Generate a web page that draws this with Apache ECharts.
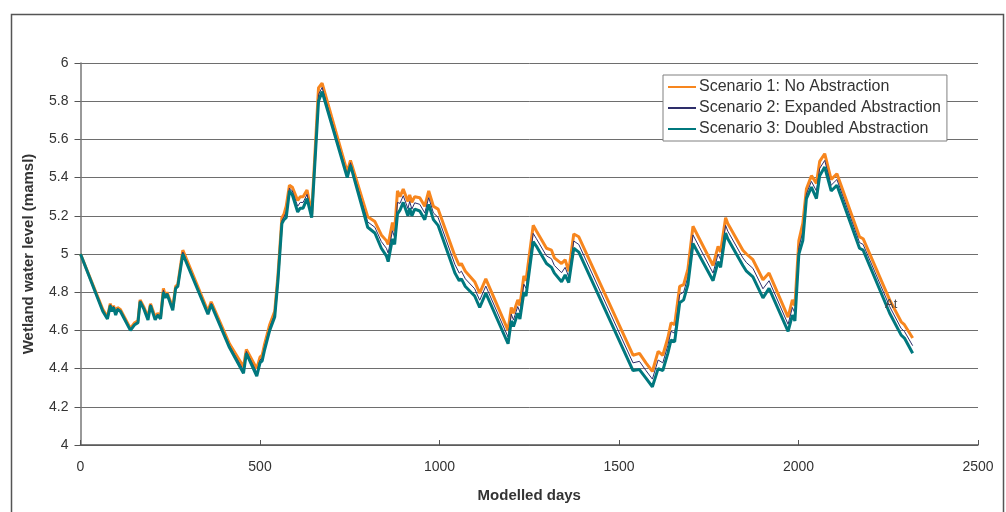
<!DOCTYPE html>
<html>
<head>
<meta charset="utf-8">
<script src="https://cdn.jsdelivr.net/npm/echarts@6/dist/echarts.min.js"></script>
<style>
html,body{margin:0;padding:0;background:#fff;}
#chart{width:1006px;height:512px;}
</style>
</head>
<body>
<div id="chart"></div>
<script>
const seriesNames = ['Scenario 1: No Abstraction', 'Scenario 2: Expanded Abstraction', 'Scenario 3: Doubled Abstraction'];
const days = [0,62,75,83,87,92,98,103,111,139,151,160,166,177,188,195,208,215,223,231,236,241,257,265,271,285,355,364,415,454,462,491,500,506,513,527,541,550,561,567,573,582,590,605,612,620,631,644,663,673,743,752,800,820,838,852,857,869,875,883,890,899,912,917,923,931,945,959,970,983,996,1043,1055,1061,1072,1098,1112,1129,1191,1200,1206,1218,1224,1235,1241,1261,1270,1298,1312,1320,1340,1350,1360,1374,1388,1539,1557,1575,1593,1609,1622,1636,1645,1655,1669,1680,1692,1706,1762,1776,1783,1797,1803,1808,1845,1855,1873,1901,1918,1971,1983,1990,2001,2012,2022,2036,2050,2059,2073,2091,2107,2170,2180,2254,2286,2295,2318];
const scenario1 = [5.00,4.71,4.67,4.74,4.71,4.73,4.69,4.72,4.71,4.61,4.64,4.65,4.76,4.72,4.67,4.74,4.67,4.69,4.67,4.82,4.78,4.80,4.72,4.83,4.84,5.02,4.70,4.75,4.53,4.41,4.50,4.40,4.46,4.47,4.53,4.63,4.70,4.89,5.19,5.21,5.25,5.36,5.35,5.28,5.30,5.30,5.335,5.21,5.87,5.895,5.43,5.49,5.195,5.17,5.10,5.07,5.05,5.165,5.12,5.33,5.30,5.34,5.275,5.31,5.27,5.30,5.295,5.25,5.33,5.25,5.235,4.99,4.94,4.95,4.91,4.855,4.795,4.87,4.60,4.72,4.69,4.76,4.73,4.885,4.86,5.15,5.12,5.03,5.02,4.98,4.95,4.97,4.91,5.105,5.09,4.47,4.48,4.43,4.385,4.49,4.47,4.56,4.64,4.63,4.83,4.84,4.92,5.145,4.94,5.04,5.01,5.19,5.16,5.165,5.02,5.00,4.97,4.865,4.90,4.67,4.76,4.73,5.07,5.16,5.34,5.41,5.37,5.485,5.525,5.39,5.42,5.09,5.08,4.76,4.645,4.63,4.56];
const scenario2 = [5.00,4.705,4.665,4.735,4.705,4.725,4.685,4.715,4.705,4.605,4.635,4.645,4.755,4.715,4.662,4.735,4.662,4.685,4.665,4.81,4.775,4.795,4.712,4.825,4.835,5.01,4.692,4.742,4.52,4.392,4.49,4.38,4.445,4.455,4.515,4.615,4.685,4.875,5.175,5.195,5.22,5.345,5.33,5.25,5.27,5.27,5.312,5.20,5.835,5.872,5.415,5.478,5.168,5.14,5.065,5.03,5.005,5.122,5.085,5.27,5.265,5.305,5.238,5.275,5.235,5.268,5.26,5.215,5.295,5.215,5.192,4.945,4.90,4.91,4.87,4.818,4.758,4.832,4.565,4.685,4.655,4.725,4.695,4.842,4.82,5.108,5.08,4.99,4.975,4.94,4.902,4.93,4.88,5.068,5.05,4.43,4.438,4.39,4.345,4.445,4.43,4.52,4.595,4.585,4.788,4.80,4.88,5.10,4.90,5.00,4.97,5.15,5.12,5.128,4.98,4.955,4.925,4.818,4.86,4.632,4.72,4.69,5.035,5.115,5.315,5.38,5.33,5.448,5.49,5.36,5.39,5.06,5.05,4.725,4.61,4.595,4.52];
const scenario3 = [5.00,4.70,4.66,4.73,4.70,4.72,4.68,4.71,4.70,4.60,4.63,4.64,4.75,4.71,4.655,4.73,4.655,4.68,4.66,4.80,4.77,4.79,4.705,4.82,4.83,5.00,4.685,4.735,4.51,4.375,4.48,4.36,4.43,4.44,4.50,4.60,4.67,4.86,5.16,5.18,5.19,5.33,5.31,5.22,5.24,5.24,5.29,5.19,5.80,5.85,5.40,5.465,5.14,5.11,5.03,4.99,4.96,5.08,5.05,5.21,5.23,5.27,5.20,5.24,5.20,5.235,5.225,5.18,5.26,5.18,5.15,4.90,4.86,4.87,4.83,4.78,4.72,4.795,4.53,4.65,4.62,4.69,4.66,4.80,4.78,5.065,5.04,4.95,4.93,4.90,4.855,4.89,4.85,5.03,5.01,4.39,4.395,4.35,4.305,4.40,4.39,4.48,4.55,4.54,4.745,4.76,4.84,5.055,4.86,4.96,4.93,5.11,5.08,5.09,4.94,4.91,4.88,4.77,4.82,4.595,4.68,4.65,5.00,5.07,5.29,5.35,5.29,5.41,5.455,5.33,5.36,5.03,5.02,4.69,4.575,4.56,4.48];
const xTicks = [0, 500, 1000, 1500, 2000, 2500];
const yTicks = [4, 4.2, 4.4, 4.6, 4.8, 5, 5.2, 5.4, 5.6, 5.8, 6];

const FONT = '"Liberation Sans", Arial, sans-serif';
const colors = ['#F7861E', '#2E2E6A', '#00787E'];
const widths = [3, 1, 3];
const allSeries = [scenario1, scenario2, scenario3];

const chart = echarts.init(document.getElementById('chart'), null, {renderer: 'canvas'});
chart.setOption({
  animation: false,
  backgroundColor: '#ffffff',
  textStyle: {fontFamily: FONT},
  grid: {left: 80.5, right: 28, top: 63, bottom: 67, containLabel: false},
  legend: {
    orient: 'vertical',
    left: 663, top: 75,
    padding: [4, 6, 4, 4],
    itemGap: 5,
    itemWidth: 28, itemHeight: 17,
    backgroundColor: '#ffffff',
    borderColor: '#808080', borderWidth: 1,
    textStyle: {fontFamily: FONT, fontSize: 16, color: '#333333', padding: [0, 0, 0, -2]},
    itemStyle: {opacity: 0},
    data: seriesNames
  },
  xAxis: {
    type: 'value',
    min: xTicks[0], max: xTicks[xTicks.length - 1], interval: 500,
    name: 'Modelled days',
    nameLocation: 'middle', nameGap: 43,
    nameTextStyle: {fontFamily: FONT, fontSize: 15, fontWeight: 'bold', color: '#333'},
    axisLine: {lineStyle: {color: '#555', width: 1.5}},
    axisTick: {show: true, inside: true, length: 5, lineStyle: {color: '#555'}},
    axisLabel: {fontFamily: FONT, fontSize: 14, color: '#333', margin: 15,
      formatter: v => String(v)},
    splitLine: {show: false}
  },
  yAxis: {
    type: 'value',
    min: 4, max: 6, interval: 0.2,
    name: 'Wetland water level (mamsl)',
    nameLocation: 'middle', nameGap: 44, nameRotate: 90,
    nameTextStyle: {fontFamily: FONT, fontSize: 15, fontWeight: 'bold', color: '#333'},
    axisLine: {show: true, lineStyle: {color: '#777', width: 1.5}},
    axisTick: {show: true, inside: false, length: 6, lineStyle: {color: '#555'}},
    axisLabel: {fontFamily: FONT, fontSize: 14, color: '#333', margin: 12,
      formatter: v => String(Math.round(v * 10) / 10)},
    splitLine: {show: true, lineStyle: {color: '#6e6e6e', width: 1}}
  },
  series: allSeries.map((vals, i) => ({
    name: seriesNames[i],
    type: 'line',
    symbol: 'none',
    showSymbol: false,
    color: colors[i],
    lineStyle: {color: colors[i], width: widths[i]},
    data: days.map((d, j) => [d, vals[j]]),
    z: 2 + i
  })),
  graphic: [
    {type: 'rect', left: 9, top: 12, silent: true, z: -1,
      shape: {width: 992, height: 520},
      style: {fill: 'none', stroke: '#555', lineWidth: 1.5}},
    {type: 'text', left: 885, top: 298, z: 10,
      style: {text: 'At', fontFamily: FONT, fontSize: 13, fill: '#444'}}
  ]
});
</script>
</body>
</html>
